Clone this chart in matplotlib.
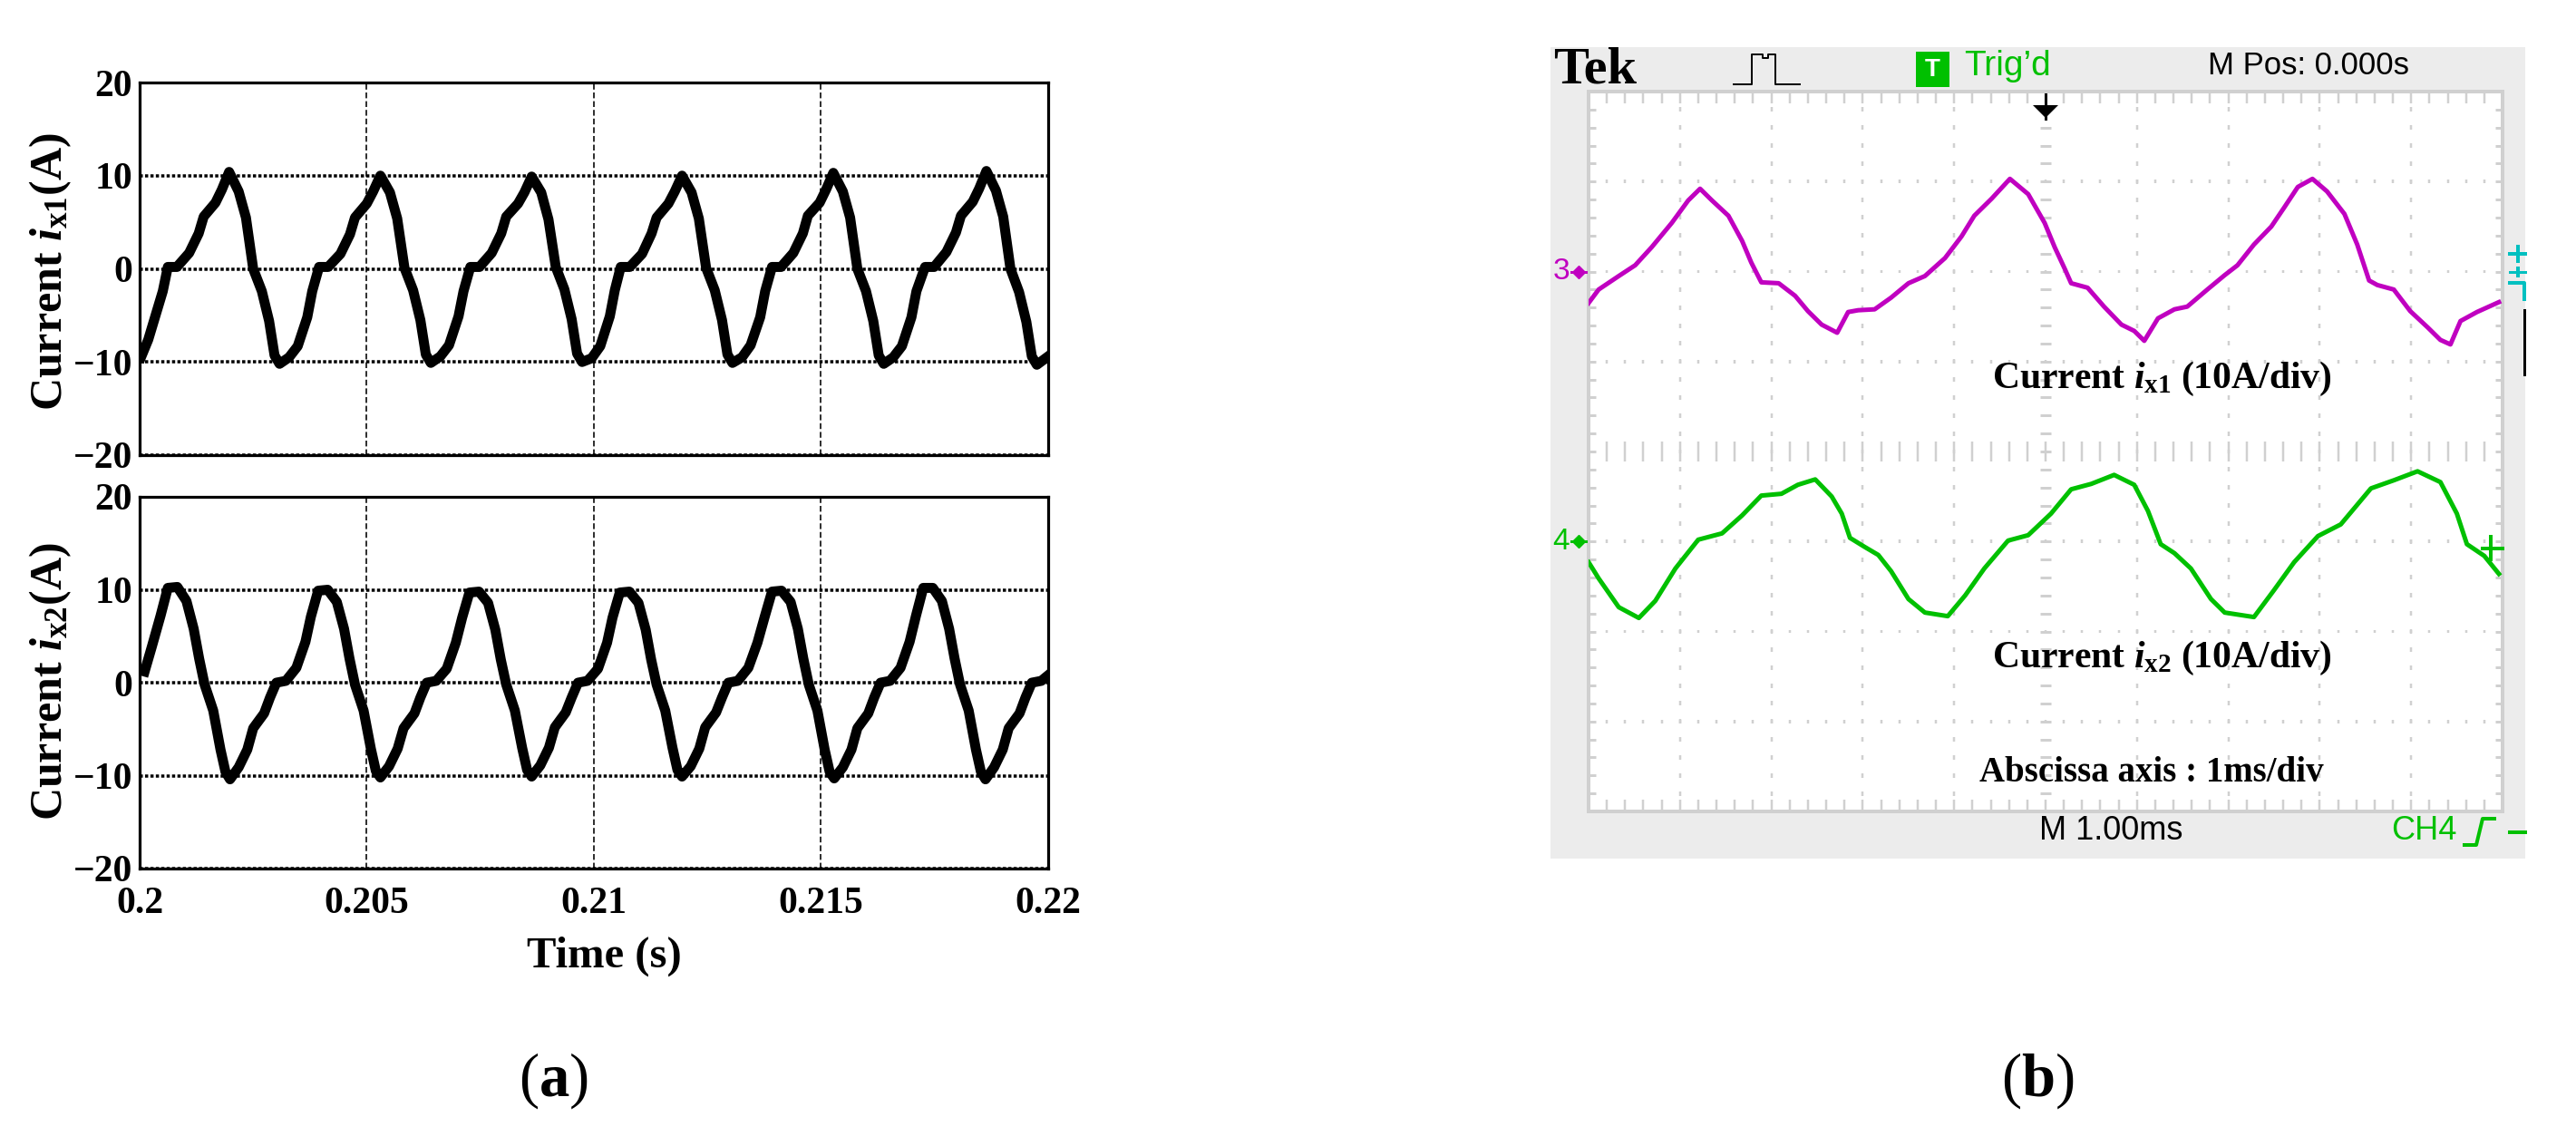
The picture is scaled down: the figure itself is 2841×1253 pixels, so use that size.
import numpy as np
import matplotlib
matplotlib.use("Agg")
import matplotlib.pyplot as plt
from matplotlib.patches import Rectangle, Polygon

W, H = 2841, 1253

# simulated currents, time in ms, current in A
ix1_t = [200.03, 200.19, 200.35, 200.51,
         200.62, 200.82, 201.09, 201.30, 201.41, 201.67, 201.81, 201.97, 202.18, 202.34, 202.50, 202.69, 202.85, 202.97, 203.08, 203.29, 203.48, 203.69, 203.80,
         203.95, 204.15, 204.42, 204.63, 204.74, 205.00, 205.14, 205.30, 205.51, 205.67, 205.83, 206.02, 206.18, 206.30, 206.41, 206.62, 206.81, 207.02, 207.13,
         207.28, 207.48, 207.75, 207.96, 208.07, 208.33, 208.47, 208.63, 208.84, 209.00, 209.16, 209.35, 209.51, 209.63, 209.74, 209.95, 210.14, 210.35, 210.46,
         210.59, 210.79, 211.06, 211.27, 211.38, 211.64, 211.78, 211.94, 212.15, 212.31, 212.47, 212.66, 212.82, 212.94, 213.05, 213.26, 213.45, 213.66, 213.77,
         213.92, 214.12, 214.39, 214.60, 214.71, 214.97, 215.11, 215.27, 215.48, 215.64, 215.80, 215.99, 216.15, 216.27, 216.38, 216.59, 216.78, 216.99, 217.10,
         217.29, 217.49, 217.76, 217.97, 218.08, 218.34, 218.48, 218.64, 218.85, 219.01, 219.17, 219.36, 219.52, 219.64, 219.75, 220.00]
ix1_i = [-9.5, -7.6, -5.0, -2.4,
         0.2, 0.2, 1.7, 3.8, 5.6, 7.1, 8.5, 10.4, 8.3, 5.5, 0.0, -2.4, -5.6, -9.3, -10.2, -9.5, -8.3, -5.2, -2.4,
         0.2, 0.2, 1.6, 3.7, 5.5, 7.0, 8.3, 10.0, 8.2, 5.4, 0.1, -2.3, -5.5, -9.2, -10.1, -9.4, -8.2, -5.1, -2.4,
         0.2, 0.2, 1.7, 3.8, 5.6, 7.0, 8.2, 9.9, 8.2, 5.3, 0.2, -2.2, -5.4, -9.1, -10.0, -9.6, -8.3, -5.1, -2.3,
         0.2, 0.2, 1.6, 3.8, 5.5, 7.0, 8.3, 10.0, 8.2, 5.4, 0.1, -2.3, -5.5, -9.2, -10.1, -9.5, -8.2, -5.2, -2.4,
         0.2, 0.2, 1.7, 3.8, 5.7, 7.1, 8.5, 10.3, 8.3, 5.5, 0.0, -2.4, -5.6, -9.3, -10.2, -9.5, -8.3, -5.2, -2.4,
         0.2, 0.2, 1.8, 3.9, 5.7, 7.2, 8.6, 10.5, 8.4, 5.6, 0.0, -2.5, -5.7, -9.4, -10.3, -9.4]

ix2_t = [200.11, 200.27,
         200.46, 200.62, 200.83, 201.03, 201.19, 201.31, 201.43, 201.62, 201.78, 201.89, 201.99, 202.18, 202.37, 202.50, 202.74, 202.87, 203.01, 203.22, 203.45, 203.65,
         203.77, 203.93, 204.14, 204.34, 204.50, 204.62, 204.74, 204.93, 205.09, 205.20, 205.30, 205.49, 205.68, 205.81, 206.05, 206.18, 206.32, 206.53, 206.76, 206.96,
         207.10, 207.26, 207.47, 207.67, 207.83, 207.95, 208.07, 208.26, 208.42, 208.53, 208.63, 208.82, 209.01, 209.14, 209.38, 209.51, 209.65, 209.86, 210.09, 210.29,
         210.41, 210.57, 210.78, 210.98, 211.14, 211.26, 211.38, 211.57, 211.73, 211.84, 211.94, 212.13, 212.32, 212.45, 212.69, 212.82, 212.96, 213.17, 213.40, 213.60,
         213.76, 213.92, 214.13, 214.33, 214.49, 214.61, 214.73, 214.92, 215.08, 215.19, 215.29, 215.48, 215.67, 215.80, 216.04, 216.17, 216.31, 216.52, 216.75, 216.95,
         217.09, 217.25, 217.46, 217.66, 217.82, 217.94, 218.06, 218.25, 218.41, 218.52, 218.62, 218.81, 219.00, 219.13, 219.37, 219.50, 219.64, 219.85, 220.00]
ix2_i = [1.2, 3.9,
         7.2, 10.2, 10.3, 8.8, 5.8, 2.6, -0.2, -3.0, -7.2, -9.6, -10.4, -9.1, -7.2, -4.9, -3.3, -1.6, 0.0, 0.2, 1.6, 4.4,
         7.1, 9.9, 10.0, 8.7, 5.8, 2.6, -0.2, -3.0, -7.1, -9.5, -10.2, -9.0, -7.1, -4.9, -3.3, -1.6, 0.0, 0.2, 1.5, 4.3,
         7.0, 9.7, 9.8, 8.6, 5.7, 2.5, -0.2, -3.0, -7.0, -9.4, -10.1, -8.9, -7.0, -4.8, -3.2, -1.6, 0.0, 0.2, 1.5, 4.3,
         7.0, 9.7, 9.8, 8.6, 5.7, 2.5, -0.2, -3.0, -7.0, -9.4, -10.1, -9.0, -7.1, -4.8, -3.2, -1.6, 0.0, 0.2, 1.6, 4.3,
         7.1, 9.8, 9.9, 8.7, 5.8, 2.6, -0.2, -3.0, -7.2, -9.6, -10.3, -9.1, -7.2, -4.9, -3.3, -1.6, 0.0, 0.2, 1.6, 4.4,
         7.2, 10.2, 10.2, 8.8, 5.8, 2.6, -0.2, -3.0, -7.2, -9.6, -10.4, -9.1, -7.2, -4.9, -3.3, -1.6, 0.0, 0.2, 0.8]

# scope traces, time in ms from left edge, current in A
ch3_t = [0, 0.11, 0.33, 0.51, 0.69, 0.91, 1.09, 1.22, 1.35, 1.53, 1.68, 1.78, 1.89, 2.08, 2.26, 2.40, 2.55, 2.72, 2.84, 2.95, 3.13, 3.31,
         3.50, 3.68, 3.90, 4.08, 4.22, 4.41, 4.61, 4.81, 4.99, 5.10, 5.21, 5.28, 5.46, 5.64, 5.83, 5.97, 6.08, 6.23, 6.41, 6.55, 6.77,
         6.96, 7.10, 7.28, 7.47, 7.61, 7.76, 7.92, 8.08, 8.27, 8.41, 8.54, 8.63, 8.81, 8.99, 9.18, 9.32, 9.43, 9.54, 9.72, 9.96]
ch3_i = [-3.5, -2.0, -0.5, 0.7, 2.7, 5.4, 7.9, 9.2, 7.9, 6.2, 3.4, 1.0, -1.2, -1.3, -2.7, -4.4, -5.9, -6.8, -4.5, -4.3, -4.2, -2.9,
         -1.3, -0.5, 1.5, 3.9, 6.2, 8.1, 10.3, 8.6, 5.4, 2.7, 0.3, -1.3, -1.8, -3.9, -5.9, -6.6, -7.7, -5.2, -4.2, -3.9, -2.0,
         -0.4, 0.7, 3.0, 5.0, 7.1, 9.4, 10.3, 8.9, 6.4, 3.0, -1.0, -1.5, -2.0, -4.4, -6.2, -7.6, -8.1, -5.5, -4.5, -3.4]
ch4_t = [0, 0.11, 0.33, 0.55, 0.73, 0.95, 1.20, 1.46, 1.68, 1.89, 2.11, 2.29, 2.48, 2.66, 2.77, 2.86, 3.02, 3.17, 3.31, 3.50, 3.68, 3.93,
         4.12, 4.33, 4.59, 4.81, 5.06, 5.28, 5.50, 5.75, 5.97, 6.12, 6.26, 6.41, 6.59, 6.81, 6.96, 7.28, 7.50, 7.72, 7.98, 8.23,
         8.56, 8.81, 9.07, 9.32, 9.50, 9.61, 9.80, 9.96]
ch4_i = [-2.3, -4.1, -7.3, -8.5, -6.6, -3.0, 0.2, 0.9, 2.9, 5.1, 5.3, 6.3, 6.9, 5.0, 3.1, 0.4, -0.6, -1.5, -3.3, -6.4, -7.9, -8.3,
         -6.0, -3.0, 0.1, 0.7, 3.1, 5.8, 6.4, 7.4, 6.3, 3.4, -0.3, -1.3, -3.0, -6.4, -7.9, -8.4, -5.4, -2.3, 0.6, 1.9,
         5.9, 6.8, 7.8, 6.6, 3.1, -0.3, -1.6, -3.6]

y_ticks = [-20, -10, 0, 10, 20]
x_ticks = [0.2, 0.205, 0.21, 0.215, 0.22]
x_tick_labels = ["0.2", "0.205", "0.21", "0.215", "0.22"]

GREEN = "#00c000"
MAGENTA = "#c000c0"
CYAN = "#00c0c0"
GRID = "#d0d0d0"
PANEL = "#ececec"

plt.rcParams["font.family"] = "Liberation Serif"
plt.rcParams["mathtext.fontset"] = "custom"
plt.rcParams["mathtext.rm"] = "Liberation Serif:bold"
plt.rcParams["mathtext.it"] = "Liberation Serif:italic:bold"
plt.rcParams["mathtext.bf"] = "Liberation Serif:bold"


def px(n):
    # pixels to points at dpi 100
    return n * 0.72


def add_axes_px(fig, left, top, right, bottom):
    return fig.add_axes([left / W, 1 - bottom / H, (right - left) / W, (bottom - top) / H])


fig = plt.figure(figsize=(W / 100, H / 100), dpi=100)

# grey panel goes behind the scope screen
bg = add_axes_px(fig, 1710, 52, 2785, 947)
bg.set_zorder(0)
bg.set_facecolor(PANEL)
bg.set_xticks([])
bg.set_yticks([])
for s in bg.spines.values():
    s.set_visible(False)

# overlay in image pixels for labels and the scope furniture
ov = fig.add_axes([0, 0, 1, 1], zorder=5)
ov.set_xlim(0, W)
ov.set_ylim(H, 0)
ov.axis("off")
ov.patch.set_alpha(0)

# panel (a)
ax1 = add_axes_px(fig, 154, 91, 1156, 502)
ax2 = add_axes_px(fig, 154, 548, 1156, 958)
for ax, t, i in [(ax1, ix1_t, ix1_i), (ax2, ix2_t, ix2_i)]:
    ax.plot(np.array(t) / 1000, i, color="black", lw=px(11), solid_joinstyle="round", zorder=3, clip_on=True)
    ax.set_xlim(0.2, 0.22)
    ax.set_ylim(-20, 20)
    ax.set_yticks(y_ticks)
    ax.set_xticks(x_ticks)
    ax.set_yticklabels(["\u2212%d" % abs(v) if v < 0 else str(v) for v in y_ticks], fontsize=30, fontweight="bold")
    ax.tick_params(length=0, pad=px(8))
    ax.xaxis.grid(True, color="black", ls=(0, (4, 2)), lw=px(1.6))
    ax.yaxis.grid(True, color="black", ls=(0, (1, 0.7)), lw=px(3.5))
    ax.set_axisbelow(True)
    for s in ax.spines.values():
        s.set_linewidth(px(3.2))
ax1.set_xticklabels([])
ax2.set_xticklabels(x_tick_labels, fontsize=30, fontweight="bold")
ax2.tick_params(axis="x", pad=px(20))

ov.text(666, 1055, "Time (s)", fontsize=35, fontweight="bold", ha="center", va="center")
ov.text(56, 300, r"Current $\mathit{i}_{\mathrm{x1}}$(A)", fontsize=36, fontweight="bold", rotation=90, ha="center", va="center")
ov.text(56, 752, r"Current $\mathit{i}_{\mathrm{x2}}$(A)", fontsize=36, fontweight="bold", rotation=90, ha="center", va="center")
ov.text(610, 1192, r"($\mathbf{a}$)", fontsize=48, ha="center", va="center")
ov.text(2247, 1192, r"($\mathbf{b}$)", fontsize=48, ha="center", va="center")

# panel (b), scope screenshot
sc = add_axes_px(fig, 1752, 101, 2760, 895)
sc.set_zorder(2)
sc.set_xlim(0, 10)
sc.set_ylim(0, 8)
sc.set_xticks([])
sc.set_yticks([])
for s in sc.spines.values():
    s.set_color(GRID)
    s.set_linewidth(px(4))

x_minor = np.arange(0, 10.01, 0.2)
y_minor = np.arange(0, 8.01, 0.2)
for k in range(1, 10):
    if k == 5:
        sc.hlines(y_minor, k - 0.055, k + 0.055, color=GRID, lw=px(3))
    else:
        sc.vlines([k] * len(y_minor), y_minor - 0.025, y_minor + 0.025, color=GRID, lw=px(2.5))
for k in range(1, 8):
    half = 0.11 if k == 4 else 0.02
    sc.vlines(x_minor, k - half, k + half, color=GRID, lw=px(2.5))
sc.vlines(x_minor, 0, 0.13, color=GRID, lw=px(2.5))
sc.vlines(x_minor, 7.87, 8, color=GRID, lw=px(2.5))
sc.hlines(y_minor, 0, 0.08, color=GRID, lw=px(3))
sc.hlines(y_minor, 9.92, 10, color=GRID, lw=px(3))

sc.plot(ch3_t, np.array(ch3_i) / 10 + 6, color=MAGENTA, lw=px(5), zorder=3)
sc.plot(ch4_t, np.array(ch4_i) / 10 + 3, color=GREEN, lw=px(5), zorder=3)

sans = "Liberation Sans"
ov.text(1713, 78, "Tek", fontsize=42, fontweight="bold", ha="left", va="center")
ov.plot([1912, 1932, 1932, 1944, 1944, 1950, 1950, 1958, 1958, 1985],
        [93, 93, 60, 60, 64, 64, 60, 60, 93, 93], color="black", lw=px(2))
ov.add_patch(Rectangle((2113, 57), 37, 39, facecolor=GREEN, edgecolor="none"))
ov.text(2131, 77, "T", color="white", fontsize=20, fontweight="bold", family=sans, ha="center", va="center")
ov.text(2166, 73, "Trig\u2019d", color=GREEN, fontsize=28, family=sans, ha="left", va="center")
ov.text(2435, 73, "M Pos: 0.000s", color="black", fontsize=25, family=sans, ha="left", va="center")
ov.text(2249, 917, "M 1.00ms", color="black", fontsize=26, family=sans, ha="left", va="center")
ov.text(2637, 917, "CH4", color=GREEN, fontsize=26, family=sans, ha="left", va="center")
ov.plot([2718, 2731, 2738, 2751], [932, 932, 903, 903], color=GREEN, lw=px(4))
ov.plot([2768, 2785], [918, 918], color=GREEN, lw=px(4))

# trigger arrow
ov.plot([2256, 2256], [104, 131], color="black", lw=px(3))
ov.add_patch(Polygon([[2242, 116], [2270, 116], [2256, 130]], facecolor="black", edgecolor="none"))

# channel markers
ov.text(1722, 300, "3", color=MAGENTA, fontsize=24, family=sans, ha="center", va="center")
ov.plot([1741], [300], marker="D", ms=px(10), color=MAGENTA)
ov.plot([1733, 1749], [300, 300], color=MAGENTA, lw=px(3))
ov.text(1722, 597, "4", color=GREEN, fontsize=24, family=sans, ha="center", va="center")
ov.plot([1741], [597], marker="D", ms=px(10), color=GREEN)
ov.plot([1733, 1749], [597, 597], color=GREEN, lw=px(3))
ov.plot([2738, 2760], [605, 605], color=GREEN, lw=px(4))
ov.plot([2747, 2747], [592, 617], color=GREEN, lw=px(4))

# trigger level marker on the right edge
ov.plot([2768, 2785], [280, 280], color=CYAN, lw=px(4))
ov.plot([2777, 2777], [272, 288], color=CYAN, lw=px(4))
ov.plot([2768, 2785], [300, 300], color=CYAN, lw=px(3))
ov.plot([2777, 2777], [296, 304], color=CYAN, lw=px(4))
ov.plot([2768, 2784, 2784], [312, 312, 330], color=CYAN, lw=px(4))
ov.plot([2784, 2784], [342, 413], color="black", lw=px(3))

ov.text(2197, 418, r"Current $\mathit{i}_{\mathrm{x1}}$ (10A/div)", fontsize=30, fontweight="bold", ha="left", va="center")
ov.text(2197, 726, r"Current $\mathit{i}_{\mathrm{x2}}$ (10A/div)", fontsize=30, fontweight="bold", ha="left", va="center")
ov.text(2183, 853, "Abscissa axis : 1ms/div", fontsize=28, fontweight="bold", ha="left", va="center")

fig.savefig("out.png", dpi=100)
